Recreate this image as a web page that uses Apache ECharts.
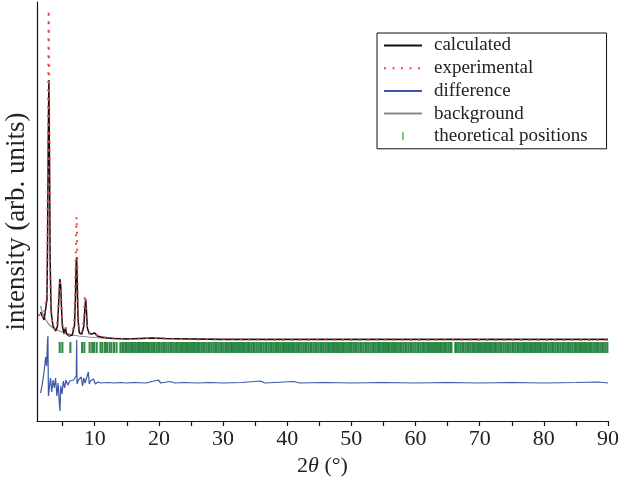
<!DOCTYPE html>
<html><head><meta charset="utf-8">
<script src="https://cdn.jsdelivr.net/npm/echarts@6/dist/echarts.min.js"></script>
<style>html,body{margin:0;padding:0;background:#fff}#c{width:620px;height:491px}</style>
</head><body><div id="c"></div>
<script>
// 2theta (deg), intensity (arb. units)
const calculated = [[1.55,109],[1.8,105],[2.1,101],[2.4,103],[2.55,121],[2.65,181],[2.75,281],[2.85,341],[2.95,261],[3.05,161],[3.2,109],[3.5,95],[3.9,90],[4.2,95],[4.4,121],[4.55,142],[4.62,144],[4.7,136],[4.8,116],[4.95,95],[5.2,88],[5.45,93],[5.6,87],[6.0,85],[6.5,86],[6.85,96],[7.0,126],[7.1,156],[7.18,164],[7.28,136],[7.4,101],[7.6,88],[8.0,87],[8.3,95],[8.45,111],[8.58,122],[8.7,111],[8.85,93],[9.1,88],[9.5,87],[10.0,88],[10.4,85],[11,84],[12,83],[13,82.5],[15,82],[17,82.5],[19,83],[21,82.5],[25,82],[30,81.5],[40,81.5],[50,81.5],[60,81.5],[70,81.5],[80,81.5],[90,81.5]];
const experimental = [[1.3,105],[1.5,109],[1.7,107],[2.0,103],[2.3,103],[2.55,126],[2.7,271],[2.82,411],[2.92,301],[3.02,171],[3.15,116],[3.4,97],[3.8,91],[4.2,99],[4.4,126],[4.55,139],[4.65,138],[4.75,129],[4.88,106],[5.05,91],[5.25,87],[5.45,94],[5.6,88],[6.0,86],[6.5,87],[6.85,103],[7.0,151],[7.12,196],[7.18,204],[7.26,171],[7.38,111],[7.55,89],[8.0,89],[8.3,101],[8.45,123],[8.55,126],[8.65,116],[8.8,96],[9.0,88],[9.5,86],[10.0,87],[11,84],[12,83],[14,82],[16,82],[18,83],[20,83],[23,82],[26,81.5],[30,82],[35,81.5],[40,81],[45,81.5],[50,81],[55,81.5],[60,81],[65,81.5],[70,81],[75,81],[80,81],[85,81],[90,81]];
const difference = [[1.55,28],[1.8,36],[2.1,49],[2.35,64],[2.5,55],[2.65,81],[2.7,85],[2.78,25],[2.95,23],[3.1,43],[3.3,29],[3.5,41],[3.7,33],[3.9,43],[4.1,25],[4.3,38],[4.45,21],[4.58,10],[4.7,35],[4.9,27],[5.1,40],[5.3,33],[5.5,41],[5.8,36],[6.1,40],[6.4,38],[6.7,41],[7.0,43],[7.12,45],[7.18,81],[7.24,37],[7.45,41],[7.7,40],[7.9,44],[8.1,35],[8.3,43],[8.5,38],[8.8,40],[9.0,49],[9.15,37],[9.3,40],[9.6,38],[9.8,42],[10.1,37],[10.5,39],[11,38],[12,38.5],[13,38],[14,38.5],[15,38],[16,38.5],[18,38],[19.9,41],[20.3,38],[21.7,39.5],[22.5,38],[24,38.5],[26,38],[28,38.5],[30,38],[33,38.5],[35.8,40],[36.5,38],[41,39.5],[42,38],[46,38.5],[50,38],[55,38.5],[60,38],[65,38.5],[70,38],[75,38.5],[80,38],[85,38.5],[88.5,39],[90,38]];
const background = [[1.55,115],[1.8,109],[2.2,103],[2.8,97],[3.5,93],[4.5,90],[5.5,88],[6.5,86],[7.5,85],[9,84],[11,83],[15,82.5],[30,82],[90,82]];
const reflections = [4.54,4.95,6.2,8.02,8.38,9.2,9.6,9.9,10.3,10.9,11.2,11.6,11.9,12.3,12.6,13.0,13.4,14.0,14.3,14.5,14.8,15.0,15.3,15.6,15.8,16.1,
16.4,16.7,16.9,17.2,17.5,17.7,18.0,18.3,18.5,18.8,19.1,19.3,19.6,19.9,20.1,20.4,20.7,20.9,21.2,21.5,21.8,22.0,22.3,22.6,22.8,23.1,23.4,23.6,23.9,24.2,24.4,24.7,25.0,25.3,25.5,25.8,26.1,26.3,26.6,26.9,27.1,27.4,27.7,27.9,28.2,28.5,28.8,29.0,29.3,29.6,29.8,
30.1,30.4,30.6,30.9,31.2,31.4,31.7,32.0,32.3,32.5,32.8,33.1,33.3,33.6,33.9,34.1,34.4,34.7,34.9,35.2,35.5,35.8,36.0,36.3,36.6,36.8,37.1,37.4,37.6,37.9,38.2,38.4,38.7,39.0,39.3,39.5,39.8,
40.1,40.3,40.6,40.9,41.1,41.4,41.7,41.9,42.2,42.5,42.8,43.0,43.3,43.6,43.8,44.1,44.4,44.6,44.9,45.2,45.4,45.7,46.0,46.3,46.5,46.8,47.1,47.3,47.6,47.9,48.1,48.4,48.7,48.9,49.2,49.5,49.8,
50.0,50.3,50.6,50.8,51.1,51.4,51.6,51.9,52.2,52.4,52.7,53.0,53.3,53.5,53.8,54.1,54.3,54.6,54.9,55.1,55.4,55.7,55.9,56.2,56.5,56.8,57.0,57.3,57.6,57.8,58.1,58.4,58.6,58.9,59.2,59.4,59.7,
60.0,60.3,60.5,60.8,61.1,61.3,61.6,61.9,62.1,62.4,62.7,62.9,63.2,63.5,63.8,64.0,64.3,64.6,64.8,65.1,65.4,65.6,66.2,66.4,66.7,67.0,67.3,67.5,67.8,68.1,68.3,68.6,68.9,69.1,69.4,69.7,69.9,
70.2,70.5,70.8,71.0,71.3,71.6,71.8,72.1,72.4,72.6,72.9,73.2,73.4,73.7,74.0,74.3,74.5,74.8,75.1,75.3,75.6,75.9,76.1,76.4,76.7,76.9,77.2,77.5,77.8,78.0,78.3,78.6,78.8,79.1,79.4,79.6,79.9,
80.2,80.4,80.7,81.0,81.3,81.5,81.8,82.1,82.3,82.6,82.9,83.1,83.4,83.7,83.9,84.2,84.5,84.8,85.0,85.3,85.6,85.8,86.1,86.4,86.6,86.9,87.2,87.4,87.7,88.0,88.3,88.5,88.8,89.1,89.3,89.6,89.9];
const reflectionRow = 73.5;
const xTicks = [5,10,15,20,25,30,35,40,45,50,55,60,65,70,75,80,85,90];
const xLabels = [10,20,30,40,50,60,70,80,90];

const FONT = 'Liberation Serif';
const hideSym = {opacity: 0};
const chart = echarts.init(document.getElementById('c'), null, {renderer:'canvas'});
chart.setOption({
  animation: false,
  backgroundColor: '#fff',
  grid: {left: 37, right: 12, top: 2, bottom: 70, containLabel: false, outerBoundsMode: 'none'},
  legend: {
    orient: 'vertical', left: 377, top: 33,
    padding: [3, 19, 3, 6], itemGap: 3.7, itemWidth: 38, itemHeight: 8,
    borderColor: '#111', borderWidth: 1, backgroundColor: '#fff',
    textStyle: {fontFamily: FONT, fontSize: 19, color: '#222', lineHeight: 18, padding: [0,0,0,7]},
    data: [{name:'calculated', itemStyle: hideSym},{name:'experimental', itemStyle: hideSym},
           {name:'difference', itemStyle: hideSym},{name:'background', itemStyle: hideSym},
           {name:'theoretical positions', icon:'path://M0,0h2v10h-2z', itemStyle: {color: '#5cb85c', opacity: 1}}]
  },
  xAxis: {
    type: 'value', min: 1, max: 90,
    name: '2{i|θ} (°)', nameLocation: 'middle', nameGap: 29,
    nameTextStyle: {fontFamily: FONT, fontSize: 22, color: '#222', rich: {i: {fontFamily: FONT, fontSize: 22, fontStyle: 'italic', color: '#222'}}},
    axisLine: {show: true, onZero: false, lineStyle: {color: '#111', width: 1.2}},
    axisTick: {show: true, inside: false, length: 5, customValues: xTicks, lineStyle: {color: '#111', width: 1.2}},
    axisLabel: {show: true, customValues: xLabels, margin: 7, fontFamily: FONT, fontSize: 22, color: '#222'},
    splitLine: {show: false}
  },
  yAxis: {
    type: 'value', min: 0, max: 419,
    name: 'intensity (arb. units)', nameLocation: 'middle', nameGap: 7,
    nameTextStyle: {fontFamily: FONT, fontSize: 27, color: '#222', padding: [0, 20, 0, 0]},
    axisLine: {show: true, onZero: false, lineStyle: {color: '#111', width: 1.2}},
    axisTick: {show: false}, axisLabel: {show: false}, splitLine: {show: false}
  },
  series: [
    {name: 'background', type: 'line', data: background, symbol: 'none', z: 2,
     lineStyle: {color: '#8a8a8a', width: 1.2}, itemStyle: {color: '#8a8a8a'}},
    {name: 'calculated', type: 'line', data: calculated, symbol: 'none', z: 3,
     lineStyle: {color: '#111', width: 1.5}, itemStyle: {color: '#111'}},
    {name: 'experimental', type: 'line', data: experimental, symbol: 'none', z: 4,
     lineStyle: {color: '#e8454a', width: 2, type: [2, 6.5]}, itemStyle: {color: '#e8454a'}},
    {name: 'difference', type: 'line', data: difference, symbol: 'none', z: 4,
     lineStyle: {color: '#3d56a6', width: 1.2}, itemStyle: {color: '#3d56a6'}},
    {name: 'theoretical positions', type: 'scatter', z: 2,
     data: reflections.map(x => [x, reflectionRow]),
     symbol: 'rect', symbolSize: [2.1, 11],
     itemStyle: {color: '#1f7f3b', opacity: 0.92}}
  ]
});
</script></body></html>
